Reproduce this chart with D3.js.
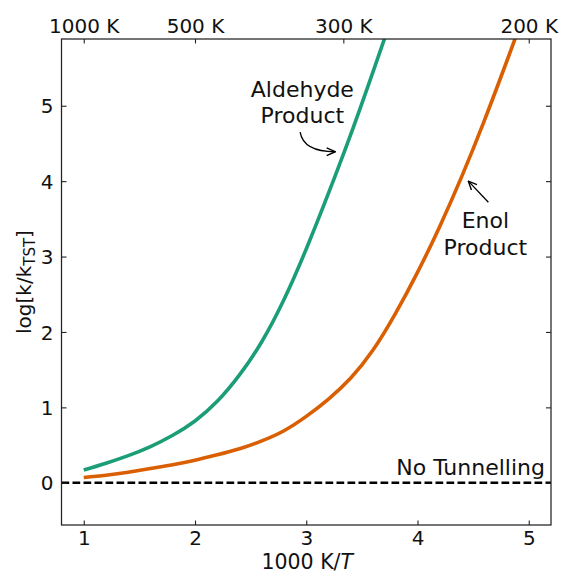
<!DOCTYPE html>
<html>
<head>
<meta charset="utf-8">
<script src="https://cdn.jsdelivr.net/npm/d3@7"></script>
<style>
  html, body { margin: 0; padding: 0; background: #fff; }
  svg { display: block; font-family: "DejaVu Sans", sans-serif; }
</style>
</head>
<body>
<svg id="chart" width="562" height="574"></svg>
<script>
// Inverse temperature, 1000 K / T
const invT = [1.0, 1.2, 1.4, 1.6, 1.8, 2.0, 2.2, 2.4, 2.6, 2.8, 3.0, 3.2, 3.4, 3.6, 3.8, 4.0, 4.2, 4.4, 4.6, 4.8, 5.0];
// log(k / k_TST) for each product channel (null = beyond the top of the plot)
const aldehyde = [0.17, 0.26, 0.36, 0.48, 0.63, 0.82, 1.08, 1.43, 1.87, 2.43, 3.10, 3.84, 4.62, 5.45, 6.30, null, null, null, null, null, null];
const enol     = [0.07, 0.10, 0.14, 0.19, 0.24, 0.30, 0.37, 0.45, 0.555, 0.69, 0.88, 1.11, 1.39, 1.76, 2.24, 2.79, 3.40, 4.07, 4.80, 5.58, 6.38];

const xTicks = [1, 2, 3, 4, 5];
const yTicks = [0, 1, 2, 3, 4, 5];
const topTemps = [1000, 500, 300, 200];   // K, placed at 1000/T
const noTunnelling = 0;

const colors = { aldehyde: "#1b9e77", enol: "#d95f02" };

const W = 562, H = 574;
const m = { left: 61.5, right: 11, top: 39, bottom: 49 };
const iw = W - m.left - m.right, ih = H - m.top - m.bottom;

const svg = d3.select("#chart");
const g = svg.append("g").attr("transform", `translate(${m.left},${m.top})`);

const x = d3.scaleLinear().domain([0.8, 5.2]).range([0, iw]);
const y = d3.scaleLinear().domain([-0.56, 5.885]).range([ih, 0]);

const defs = svg.append("defs");
defs.append("clipPath").attr("id", "plotClip")
  .append("rect").attr("width", iw).attr("height", ih);

defs.append("marker")
  .attr("id", "head").attr("viewBox", "0 0 10 10")
  .attr("refX", 9.5).attr("refY", 5)
  .attr("markerWidth", 10).attr("markerHeight", 10)
  .attr("markerUnits", "userSpaceOnUse")
  .attr("orient", "auto")
  .append("path").attr("d", "M1,1.2 L9.5,5 L1,8.8")
  .attr("fill", "none").attr("stroke", "#000").attr("stroke-width", 1.4);

const plot = g.append("g").attr("clip-path", "url(#plotClip)");

// no-tunnelling reference
plot.append("line")
  .attr("x1", 0).attr("x2", iw)
  .attr("y1", y(noTunnelling)).attr("y2", y(noTunnelling))
  .attr("stroke", "#000").attr("stroke-width", 2.6)
  .attr("stroke-dasharray", "7.7,3.3");

const line = d3.line()
  .defined(d => d[1] != null)
  .x(d => x(d[0])).y(d => y(d[1]))
  .curve(d3.curveNatural);

[["aldehyde", aldehyde], ["enol", enol]].forEach(([key, vals]) => {
  plot.append("path")
    .datum(invT.map((t, i) => [t, vals[i]]))
    .attr("d", line)
    .attr("fill", "none")
    .attr("stroke", colors[key])
    .attr("stroke-width", 3.6)
    .attr("stroke-linecap", "butt");
});

// axes (ticks point inward)
const fs = 20, fsLabel = 22, fsXTitle = 20.5;
const xAxis = g.append("g").attr("transform", `translate(0,${ih})`)
  .call(d3.axisBottom(x).tickValues(xTicks).tickFormat(d3.format("d")).tickSizeInner(-4.5).tickSizeOuter(0));
xAxis.selectAll("text").attr("y", 6.2).attr("dy", "0.71em");

const topAxis = g.append("g")
  .call(d3.axisTop(x).tickValues(topTemps.map(t => 1000 / t)).tickFormat((d, i) => topTemps[i] + " K").tickSizeInner(-4.5).tickSizeOuter(0));
topAxis.selectAll("text").attr("y", -6.5).attr("dy", "0");

const yAxis = g.append("g")
  .call(d3.axisLeft(y).tickValues(yTicks).tickFormat(d3.format("d")).tickSizeInner(-5).tickSizeOuter(0));
yAxis.selectAll("text").attr("x", -8).attr("dy", "0.36em");

const yAxisR = g.append("g").attr("transform", `translate(${iw},0)`)
  .call(d3.axisRight(y).tickValues(yTicks).tickFormat("").tickSizeInner(-5).tickSizeOuter(0));

[xAxis, topAxis, yAxis, yAxisR].forEach(a => {
  a.select(".domain").remove();
  a.selectAll("line").attr("stroke", "#222").attr("stroke-width", 1.1);
  a.selectAll("text").attr("font-size", fs).attr("font-family", "DejaVu Sans, sans-serif").attr("fill", "#111");
});

// frame
g.append("rect").attr("width", iw).attr("height", ih)
  .attr("fill", "none").attr("stroke", "#222").attr("stroke-width", 1.25);

// axis titles
const xt = svg.append("text")
  .attr("x", m.left + x(3.0) + 1).attr("y", 569.2)
  .attr("text-anchor", "middle").attr("font-size", fsXTitle).attr("fill", "#111");
xt.append("tspan").text("1000 K/");
xt.append("tspan").attr("font-style", "italic").text("T");

const yt = svg.append("text")
  .attr("transform", `translate(31,${m.top + ih / 2}) rotate(-90)`)
  .attr("text-anchor", "middle").attr("font-size", fs).attr("fill", "#111");
yt.append("tspan").text("log[k/k");
yt.append("tspan").attr("font-size", 15).attr("dy", 4).text("TST");
yt.append("tspan").attr("dy", -4).text("]");

// annotations (data coordinates)
const ann = g.append("g").attr("font-size", fsLabel).attr("fill", "#111");
ann.append("text").attr("x", x(5.146)).attr("y", y(0.106)).attr("text-anchor", "end").text("No Tunnelling");

const aldText = ann.append("text").attr("text-anchor", "middle");
aldText.append("tspan").attr("x", x(2.965)).attr("y", y(5.12)).text("Aldehyde");
aldText.append("tspan").attr("x", x(2.965)).attr("y", y(4.775)).text("Product");

const enolText = ann.append("text").attr("text-anchor", "middle");
enolText.append("tspan").attr("x", x(4.61)).attr("y", y(3.38)).text("Enol");
enolText.append("tspan").attr("x", x(4.61)).attr("y", y(3.025)).text("Product");

// arrows
const aldArrow = { from: [2.945, 4.65], ctrl: [2.975, 4.39], to: [3.26, 4.39] };
g.append("path")
  .attr("d", `M${x(aldArrow.from[0])},${y(aldArrow.from[1])} Q${x(aldArrow.ctrl[0])},${y(aldArrow.ctrl[1])} ${x(aldArrow.to[0])},${y(aldArrow.to[1])}`)
  .attr("fill", "none").attr("stroke", "#000").attr("stroke-width", 1.3)
  .attr("marker-end", "url(#head)");

const enolArrow = { from: [4.637, 3.72], to: [4.457, 4.0] };
g.append("line")
  .attr("x1", x(enolArrow.from[0])).attr("y1", y(enolArrow.from[1]))
  .attr("x2", x(enolArrow.to[0])).attr("y2", y(enolArrow.to[1]))
  .attr("stroke", "#000").attr("stroke-width", 1.3)
  .attr("marker-end", "url(#head)");
</script>
</body>
</html>
